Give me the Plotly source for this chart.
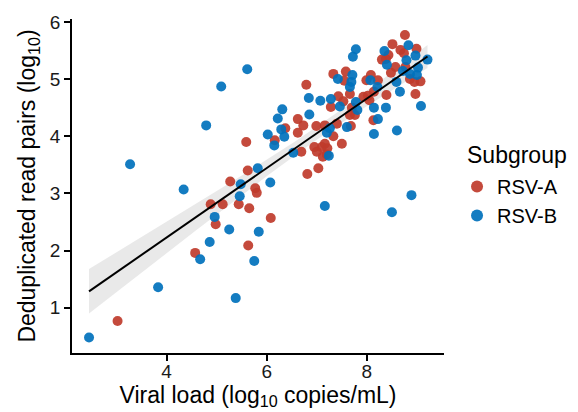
import numpy as np
import plotly.graph_objects as go

# RSV-A (red) points: viral load (log10 copies/mL), deduplicated read pairs (log10)
rsva_x = [3.02, 4.57, 4.98, 4.88, 5.12, 5.27, 5.44, 5.65, 5.63, 5.59, 5.62, 5.77, 5.80, 6.08,
          6.16, 6.37, 6.62, 6.73, 6.62, 6.69, 6.81, 7.03, 6.95, 7.00, 7.10, 7.16, 7.21, 7.12,
          7.20, 6.99, 7.16, 7.40, 7.33, 7.50, 7.68, 6.79, 7.33, 7.58, 7.55, 7.43, 7.66, 7.28,
          7.53, 7.70, 7.76, 7.66, 7.93, 8.02, 8.05, 8.13, 7.99, 8.08, 8.22, 8.76, 8.51, 8.67,
          8.74, 8.99, 8.43, 8.30, 8.38, 8.57, 8.77, 8.48, 8.86, 8.95, 9.07, 8.97, 8.39, 8.14]
rsva_y = [0.77, 1.96, 2.46, 2.81, 2.81, 3.21, 2.81, 2.74, 2.09, 3.90, 3.40, 3.09, 3.01, 2.57,
          3.93, 4.14, 4.30, 4.19, 4.06, 3.73, 3.34, 3.44, 3.81, 3.73, 3.81, 3.87, 3.79, 3.64,
          3.68, 4.18, 4.19, 4.22, 4.00, 3.87, 4.18, 4.90, 5.09, 5.13, 4.97, 4.70, 4.74, 4.51,
          4.61, 4.50, 4.37, 4.37, 4.69, 4.71, 4.63, 4.28, 4.98, 5.07, 4.98, 5.77, 5.61, 5.51,
          5.45, 5.53, 5.42, 5.34, 5.35, 5.21, 5.21, 5.11, 5.00, 4.95, 4.96, 4.74, 4.72, 4.78]

# RSV-B (blue) points
rsvb_x = [2.45, 3.83, 3.27, 4.34, 4.79, 5.09, 5.61, 4.67, 4.86, 4.96, 5.25, 5.38, 5.48, 5.46,
          5.75, 5.84, 5.82, 6.07, 7.16, 8.50, 8.89, 6.02, 6.15, 6.29, 6.35, 6.31, 6.22, 6.53,
          6.85, 6.84, 7.07, 7.28, 7.20, 7.26, 7.24, 7.60, 7.46, 7.42, 7.71, 7.69, 7.66, 7.78,
          7.72, 7.78, 7.81, 8.14, 8.22, 8.14, 8.07, 8.21, 8.83, 8.35, 8.97, 8.79, 8.40, 9.21,
          9.02, 8.72, 9.00, 8.59, 8.66, 8.38, 8.60, 9.08, 8.86]
rsvb_y = [0.48, 1.36, 3.51, 3.07, 4.19, 4.87, 5.17, 1.85, 2.15, 2.59, 2.37, 1.17, 3.16, 2.95,
          1.82, 2.33, 3.44, 3.19, 2.78, 2.67, 2.97, 4.03, 3.84, 4.12, 3.99, 4.47, 4.31, 3.71,
          4.38, 4.67, 4.62, 4.65, 4.06, 4.14, 3.66, 4.16, 4.52, 5.00, 5.07, 4.95, 4.86, 5.52,
          5.39, 4.60, 4.46, 4.50, 4.30, 4.04, 4.98, 4.86, 5.59, 5.49, 5.41, 5.33, 5.25, 5.34,
          5.20, 5.14, 5.07, 4.95, 4.78, 4.50, 4.10, 4.53, 5.09]

x_ticks = [4, 6, 8]
y_ticks = [1, 2, 3, 4, 5, 6]

RED = "#BF3B2B"
BLUE = "#0071BC"

# linear fit with 95% confidence band (computed from data)
ax = np.array(rsva_x + rsvb_x)
ay = np.array(rsva_y + rsvb_y)
n = len(ax)
b1, b0 = np.polyfit(ax, ay, 1)
xs = np.linspace(ax.min(), ax.max(), 80)
ys = b0 + b1 * xs
resid = ay - (b0 + b1 * ax)
s = np.sqrt(np.sum(resid ** 2) / (n - 2))
sxx = np.sum((ax - ax.mean()) ** 2)
se = s * np.sqrt(1.0 / n + (xs - ax.mean()) ** 2 / sxx)
t = 1.98
lo = ys - t * se
hi = ys + t * se

fig = go.Figure()
fig.add_trace(go.Scatter(x=np.concatenate([xs, xs[::-1]]), y=np.concatenate([hi, lo[::-1]]),
                         fill="toself", fillcolor="rgba(200,200,200,0.4)", line=dict(width=0),
                         mode="lines", hoverinfo="skip", showlegend=False))
fig.add_trace(go.Scatter(x=rsva_x, y=rsva_y, mode="markers", name="RSV-A",
                         marker=dict(color=RED, size=10, opacity=0.92)))
fig.add_trace(go.Scatter(x=rsvb_x, y=rsvb_y, mode="markers", name="RSV-B",
                         marker=dict(color=BLUE, size=10, opacity=0.92)))
fig.add_trace(go.Scatter(x=xs, y=ys, mode="lines", line=dict(color="black", width=2),
                         hoverinfo="skip", showlegend=False))

axis_common = dict(showline=True, linecolor="black", linewidth=1.5, ticks="outside",
                   tickcolor="black", tickwidth=1.5, ticklen=6, showgrid=False, zeroline=False,
                   automargin=False,
                   tickfont=dict(size=19, color="#1a1a1a"),
                   title_font=dict(size=23, color="black"))

fig.update_layout(
    width=578, height=412,
    margin=dict(l=72, r=134, t=19, b=59),
    plot_bgcolor="white", paper_bgcolor="white",
    font=dict(family="Liberation Sans, Arial, sans-serif", color="black"),
    xaxis=dict(range=[2.11, 9.54], tickvals=x_ticks, ticklabelstandoff=-6,
               title=dict(text="Viral load (log<sub>10</sub> copies/mL)", standoff=0), **axis_common),
    yaxis=dict(range=[0.21, 6.05], tickvals=y_ticks,
               title=dict(text="Deduplicated read pairs (log<sub>10</sub>)", standoff=8), **axis_common),
    legend=dict(x=1.035, y=0.455, xanchor="left", yanchor="middle", font=dict(size=20),
                itemsizing="constant", tracegroupgap=0),
    annotations=[dict(text="Subgroup", xref="paper", yref="paper", x=1.0565, y=0.593,
                      xanchor="left", yanchor="middle", showarrow=False,
                      font=dict(size=23, color="black"))],
)

fig.write_html("out.html", config={"displayModeBar": False},
               post_script="document.body.style.margin='0';document.body.style.overflow='hidden';")
